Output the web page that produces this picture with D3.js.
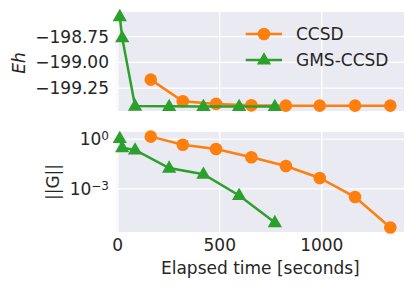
<!DOCTYPE html>
<html>
<head>
<meta charset="utf-8">
<script src="https://cdn.jsdelivr.net/npm/d3@7"></script>
<style>
  body { margin: 0; background: #fff; }
  text { font-family: "DejaVu Sans", sans-serif; fill: #262626; }
</style>
</head>
<body>
<svg id="chart"></svg>
<script>
// values
let ccsdTime = [162, 319, 482, 655, 824, 990, 1163, 1336];
let ccsdEnergy = [-199.168, -199.378, -199.403, -199.417, -199.42, -199.42, -199.42, -199.42];
let ccsdGrad = [1.4, 0.45, 0.25, 0.08, 0.024, 0.0045, 3.2e-4, 4.7e-6];

let gmsTime = [10, 22, 85, 252, 420, 595, 770];
let gmsEnergy = [-198.556, -198.761, -199.424, -199.427, -199.428, -199.428, -199.428];
let gmsGrad = [1.1, 0.3, 0.22, 0.018, 0.0076, 4e-4, 9.3e-6];

let xTicks = [0, 500, 1000];
let eTicks = [-198.75, -199.00, -199.25];
let gTicks = [1, 1e-3];

let width = 416;
let height = 290;
let left = 116.7;
let right = 404;
let fs = 17;

let orange = '#ff7f0e';
let green = '#2ca02c';

let svg = d3.select('#chart').attr('width', width).attr('height', height);

let xScale = d3.scaleLinear().domain([-5, 1403]).range([left, right]);
let eScale = d3.scaleLinear().domain([-199.472, -198.512]).range([111, 12]);
let gScale = d3.scaleLog().domain([Math.pow(10, -5.6), Math.pow(10, 0.426)]).range([232, 132]);

let drawPanel = (yScale, yTicks, top, bottom) => {
    let g = svg.append('g');
    g.append('rect')
        .attr('x', left).attr('y', top)
        .attr('width', right - left).attr('height', bottom - top)
        .attr('fill', '#eaeaf2');
    g.selectAll('.vgrid').data(xTicks).enter().append('line')
        .attr('x1', d => xScale(d)).attr('x2', d => xScale(d))
        .attr('y1', top).attr('y2', bottom)
        .attr('stroke', '#fff').attr('stroke-width', 1.3);
    g.selectAll('.hgrid').data(yTicks).enter().append('line')
        .attr('x1', left).attr('x2', right)
        .attr('y1', d => yScale(d)).attr('y2', d => yScale(d))
        .attr('stroke', '#fff').attr('stroke-width', 1.3);
    return g;
};

let triangle = d3.symbol().type(d3.symbolTriangle).size(88);

let drawSeries = (xs, ys, yScale, color, marker) => {
    let pts = xs.map((x, i) => [xScale(x), yScale(ys[i])]);
    svg.append('path')
        .attr('d', d3.line()(pts))
        .attr('fill', 'none').attr('stroke', color).attr('stroke-width', 2.5);
    if (marker === 'circle') {
        svg.selectAll(null).data(pts).enter().append('circle')
            .attr('cx', d => d[0]).attr('cy', d => d[1]).attr('r', 6.3)
            .attr('fill', color);
    } else {
        svg.selectAll(null).data(pts).enter().append('path')
            .attr('d', triangle)
            .attr('transform', d => 'translate(' + d[0] + ',' + (d[1] + 0.5) + ')')
            .attr('fill', color);
    }
};

// top panel
drawPanel(eScale, eTicks, 12, 111);
drawSeries(ccsdTime, ccsdEnergy, eScale, orange, 'circle');
drawSeries(gmsTime, gmsEnergy, eScale, green, 'triangle');

svg.selectAll('.etick').data(eTicks).enter().append('text')
    .attr('x', 109).attr('y', d => eScale(d)).attr('dy', '0.36em')
    .attr('text-anchor', 'end').attr('font-size', fs)
    .text(d => '\u2212' + Math.abs(d).toFixed(2));

svg.append('text')
    .attr('transform', 'translate(25,63) rotate(-90)')
    .attr('text-anchor', 'middle').attr('font-size', fs)
    .attr('font-style', 'italic')
    .text('Eh');

// legend
let legend = [['CCSD', orange, 'circle', 34], ['GMS-CCSD', green, 'triangle', 60]];
legend.forEach(([name, color, marker, y]) => {
    svg.append('line')
        .attr('x1', 245.7).attr('x2', 282).attr('y1', y).attr('y2', y)
        .attr('stroke', color).attr('stroke-width', 2.5);
    if (marker === 'circle') {
        svg.append('circle').attr('cx', 264).attr('cy', y).attr('r', 6.3).attr('fill', color);
    } else {
        svg.append('path').attr('d', triangle)
            .attr('transform', 'translate(264,' + (y + 0.5) + ')').attr('fill', color);
    }
    svg.append('text')
        .attr('x', 296).attr('y', y).attr('dy', '0.36em')
        .attr('font-size', fs).text(name);
});

// bottom panel
drawPanel(gScale, gTicks, 132, 232);
drawSeries(ccsdTime, ccsdGrad, gScale, orange, 'circle');
drawSeries(gmsTime, gmsGrad, gScale, green, 'triangle');

gTicks.forEach(t => {
    let exp = Math.round(Math.log10(t));
    let txt = svg.append('text')
        .attr('x', 109).attr('y', gScale(t)).attr('dy', '0.36em')
        .attr('text-anchor', 'end').attr('font-size', fs);
    txt.append('tspan').text('10');
    txt.append('tspan').attr('dy', '-0.45em').attr('font-size', 12)
        .text(exp < 0 ? '\u2212' + Math.abs(exp) : String(exp));
});

svg.append('text')
    .attr('transform', 'translate(59,182) rotate(-90)')
    .attr('text-anchor', 'middle').attr('font-size', fs)
    .text('||G||');

// x axis
svg.selectAll('.xtick').data(xTicks).enter().append('text')
    .attr('x', d => xScale(d)).attr('y', 251)
    .attr('text-anchor', 'middle').attr('font-size', fs)
    .text(d => d);

svg.append('text')
    .attr('x', xScale(-5) + (right - left) / 2).attr('y', 274)
    .attr('text-anchor', 'middle').attr('font-size', fs)
    .text('Elapsed time [seconds]');
</script>
</body>
</html>
